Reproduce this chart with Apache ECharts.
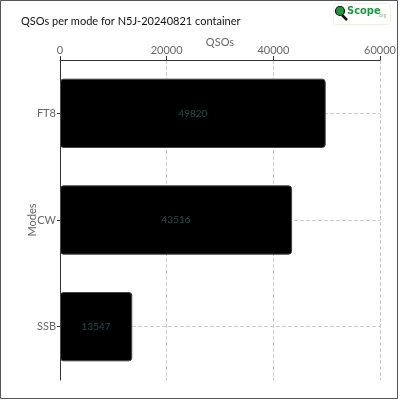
<!DOCTYPE html>
<html>
<head>
<meta charset="utf-8">
<script src="https://cdn.jsdelivr.net/npm/echarts@6/dist/echarts.min.js"></script>
<style>
html,body{margin:0;padding:0;background:#fff;}
#chart{width:400px;height:400px;}
</style>
</head>
<body>
<div id="chart"></div>
<script>
var categories = ['FT8', 'CW', 'SSB'];
var qsoValues = [49820, 43516, 13547];
var xTicks = [0, 20000, 40000, 60000];
var titleText = 'QSOs per mode for N5J-20240821 container';

var FONT = 'Lato';
var chart = echarts.init(document.getElementById('chart'));
var option = {
  animation: false,
  backgroundColor: '#fff',
  title: {
    text: titleText,
    left: 16, top: 11,
    textStyle: {fontFamily: FONT, fontSize: 11, fontWeight: 'normal', color: '#111'}
  },
  graphic: [
    {type: 'rect', shape: {x: 0.5, y: 0.5, width: 397, height: 398}, style: {fill: 'none', stroke: '#555', lineWidth: 1}, silent: true},
    {type: 'rect', shape: {x: 333.5, y: 3.5, width: 57, height: 21, r: 3}, style: {fill: '#fff', stroke: '#eef2dc', lineWidth: 1}},
    {type: 'line', shape: {x1: 342, y1: 15, x2: 347, y2: 20}, style: {stroke: '#111', lineWidth: 2.5}},
    {type: 'circle', shape: {cx: 340, cy: 11, r: 4.5}, style: {fill: '#1a9a3a', stroke: '#111', lineWidth: 1.2}},
    {type: 'text', left: 347, top: 6, style: {text: 'Scope', fontFamily: 'DejaVu Sans Condensed', fontWeight: 'bold', fontSize: 11, fill: '#1a9a3a'}},
    {type: 'text', left: 378, top: 13, style: {text: '.org', fontFamily: FONT, fontSize: 5, fill: '#8cc68c'}}
  ],
  grid: {left: 60, right: 20, top: 60, bottom: 20, containLabel: false},
  xAxis: {
    type: 'value',
    position: 'top',
    min: xTicks[0], max: xTicks[xTicks.length - 1], interval: xTicks[1] - xTicks[0],
    name: 'QSOs', nameLocation: 'middle', nameGap: 12, nameMoveOverlap: false,
    nameTextStyle: {fontFamily: FONT, fontSize: 11, color: '#666'},
    axisLine: {show: true, lineStyle: {color: '#333'}},
    axisTick: {show: true, length: 4, lineStyle: {color: '#333'}},
    axisLabel: {fontFamily: FONT, fontSize: 11, color: '#666', margin: 4, formatter: function (v) { return String(v); }},
    splitLine: {show: true, lineStyle: {type: 'dashed', color: '#ccc'}}
  },
  yAxis: {
    type: 'category',
    inverse: true,
    data: categories,
    name: 'Modes', nameLocation: 'middle', nameGap: 22, nameMoveOverlap: false,
    nameTextStyle: {fontFamily: FONT, fontSize: 11, color: '#666'},
    axisLine: {show: true, lineStyle: {color: '#333'}},
    axisTick: {show: true, alignWithLabel: true, length: 3, lineStyle: {color: '#333'}},
    axisLabel: {fontFamily: FONT, fontSize: 11, color: '#666', margin: 4},
    splitLine: {show: false}
  },
  series: [{
    type: 'bar',
    data: qsoValues,
    barCategoryGap: '35%',
    itemStyle: {color: '#000', borderColor: '#444', borderWidth: 1, borderRadius: 3},
    label: {show: true, position: 'inside', fontFamily: FONT, fontSize: 10, color: '#1f4f4f'},
    z: 3,
    markLine: {
      silent: true, symbol: 'none', z: 1,
      label: {show: false},
      lineStyle: {type: 'dashed', color: '#ccc', width: 1},
      data: categories.map(function (c) { return {yAxis: c}; })
    }
  }]
};
chart.setOption(option);
</script>
</body>
</html>
